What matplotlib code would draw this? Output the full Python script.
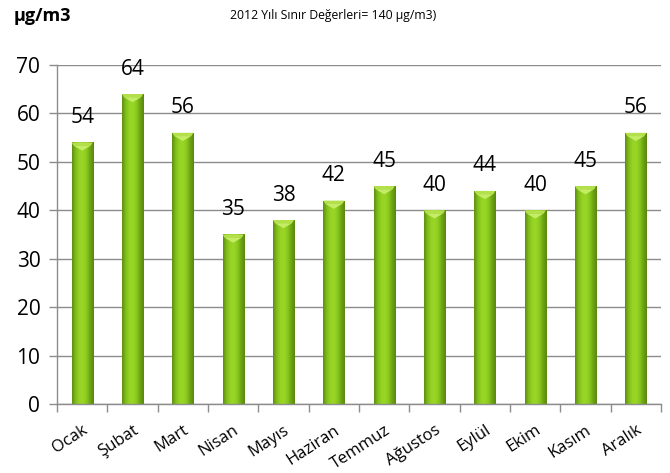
import numpy as np
import matplotlib
matplotlib.use("Agg")
import matplotlib.pyplot as plt
from matplotlib.colors import LinearSegmentedColormap
from matplotlib.patches import Polygon

plt.rcParams['font.family'] = ['Open Sans', 'DejaVu Sans']

months = ["Ocak", "Şubat", "Mart", "Nisan", "Mayıs", "Haziran",
          "Temmuz", "Ağustos", "Eylül", "Ekim", "Kasım", "Aralık"]
values = [54, 64, 56, 35, 38, 42, 45, 40, 44, 40, 45, 56]
yticks = [0, 10, 20, 30, 40, 50, 60, 70]

fig = plt.figure(figsize=(6.7, 4.73), dpi=100)
ax = fig.add_axes([57 / 670, 1 - 404 / 473, (661 - 57) / 670, (404 - 65) / 473])

x = np.arange(len(months))
width = 0.42
bars = ax.bar(x, values, width=width, color="#8cc63f", zorder=2)

cmap = LinearSegmentedColormap.from_list(
    "bar", ["#5c8f10", "#80be1a", "#96d324", "#9ad626", "#88c81e", "#6ea414", "#58880e"])
grad = np.linspace(0, 1, 64).reshape(1, -1)
for b, v in zip(bars, values):
    x0 = b.get_x()
    im = ax.imshow(grad, cmap=cmap, aspect="auto", zorder=2,
                   extent=[x0, x0 + width, 0, v], interpolation="bicubic")
    im.set_clip_path(b)
    b.set_facecolor("none")
    b.set_edgecolor("#6a9a1c")
    b.set_linewidth(0.6)
    # bevelled top cap
    cap = 1.7
    band = Polygon([[x0, v], [x0 + width, v], [x0 + width * 0.9, v - cap * 0.4],
                    [x0 + width * 0.1, v - cap * 0.4]], closed=True,
                   facecolor="#b4e04c", edgecolor="none", zorder=3)
    tri = Polygon([[x0 + width * 0.1, v - cap * 0.4], [x0 + width * 0.9, v - cap * 0.4],
                   [x0 + width * 0.5, v - cap]],
                  closed=True, facecolor="#c4ec66", edgecolor="none", zorder=3)
    ax.add_patch(band)
    ax.add_patch(tri)
    ax.annotate(str(v), (x0 + width / 2, v), xytext=(0, 14),
                textcoords="offset points", ha="center", va="baseline",
                fontsize=15, color="black")

ax.set_xlim(-0.5, len(months) - 0.5)
ax.set_ylim(0, 70)
ax.set_yticks(yticks)
ax.set_yticklabels([str(t) for t in yticks], fontsize=15)
ax.yaxis.grid(True, color="#8c8c8c", linewidth=1.0, zorder=0)
ax.set_axisbelow(True)

ax.set_xticks(x)
ax.set_xticklabels(months, rotation=33, ha="right", rotation_mode="anchor",
                   fontsize=12)
ax.tick_params(axis="x", length=0, pad=13)
ax.set_xticks(np.arange(-0.5, len(months), 1.0), minor=True)
ax.tick_params(axis="x", which="minor", length=6, color="#8c8c8c", width=1)
ax.tick_params(axis="y", length=6, color="#8c8c8c", width=1, pad=6)

for side in ["top", "right"]:
    ax.spines[side].set_visible(False)
for side in ["left", "bottom"]:
    ax.spines[side].set_color("#8c8c8c")
    ax.spines[side].set_linewidth(1.0)

fig.text(14 / 670, 1 - 16 / 473, "µg/m3", fontsize=13, fontweight="bold",
         ha="left", va="center")
fig.text(230 / 670, 1 - 16 / 473, "2012 Yılı Sınır Değerleri= 140 µg/m3)",
         fontsize=8.8, ha="left", va="center")

fig.savefig("out.png", dpi=100)
